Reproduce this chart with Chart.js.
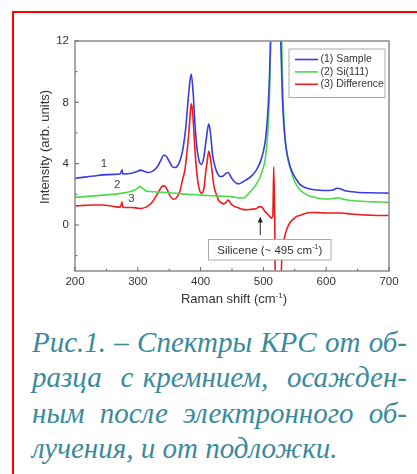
<!DOCTYPE html>
<html lang="ru">
<head>
<meta charset="UTF-8">
<title>Спектры КРС</title>
<script src="https://cdn.jsdelivr.net/npm/chart.js"></script>
<style>
    body {
        margin: 0;
        width: 417px;
        height: 474px;
        overflow: hidden;
        background: #fff;
        position: relative;
    }
    .frame {
        position: absolute;
        left: 12px;
        top: 11px;
        width: 420px;
        height: 480px;
        border-left: 2px solid #ff0000;
        border-top: 2px solid #ff0000;
    }
    #spectra {
        position: absolute;
        left: 0;
        top: 0;
    }
    .caption {
        position: absolute;
        left: 32px;
        top: 325px;
        width: 375px;
        font-family: "Liberation Serif", serif;
        font-style: italic;
        font-size: 29px;
        line-height: 35.3px;
        color: #3a8a9c;
    }
    .caption div {
        text-align: justify;
        text-align-last: justify;
    }
    .caption div.last {
        text-align-last: left;
    }
</style>
</head>
<body>
<div class="frame"></div>
<canvas id="spectra" width="417" height="310"></canvas>
<div class="caption">
    <div>Рис.1. – Спектры КРС от об-</div>
    <div>разца &nbsp;с кремнием, &nbsp;осажден-</div>
    <div>ным &nbsp;после &nbsp;электронного &nbsp;об-</div>
    <div class="last">лучения, и от подложки.</div>
</div>
<script>
// Raman shift (cm-1) and intensity (arb. units) for each spectrum
const sampleShift = [200, 215, 230, 245, 260, 272, 275, 276, 278, 290, 300, 304, 310, 316, 325, 332, 337, 341, 345, 350,
    355, 359, 364, 368, 372, 376, 379, 382, 385, 388, 391, 394, 397, 401, 405, 409, 413, 416, 419, 423,
    427, 431, 436, 440, 444, 448, 453, 460, 467, 473, 480, 489, 495, 500, 504, 508, 511, 514, 517, 520,
    523, 526, 528, 530, 532, 535, 537, 542, 546, 552, 558, 566, 574, 590, 605, 612, 617, 623, 632, 648,
    670, 700];
const sampleIntensity = [3.05, 3.12, 3.2, 3.27, 3.3, 3.33, 3.6, 3.33, 3.33, 3.38, 3.5, 3.58, 3.5, 3.42, 3.55, 3.85, 4.25, 4.55, 4.5, 4.15,
    3.8, 3.75, 3.9, 4.3, 5.0, 6.2, 7.6, 9.0, 9.85, 8.7, 6.6, 5.1, 4.3, 3.95, 4.4, 5.6, 6.6, 5.9, 4.6, 3.8,
    3.35, 3.16, 3.2, 3.35, 3.42, 3.15, 2.85, 2.68, 2.8, 2.95, 3.15, 3.6, 4.1, 4.8, 5.8, 8.0, 11.5, 18, 28, 40,
    30, 15, 11.5, 8.6, 6.9, 5.4, 4.8, 3.9, 3.45, 3.0, 2.65, 2.45, 2.35, 2.27, 2.25, 2.3, 2.4, 2.35, 2.22, 2.14,
    2.1, 2.08];

const siShift = [200, 215, 230, 245, 260, 275, 288, 296, 300, 303, 307, 312, 320, 335, 350, 365, 380, 394, 410, 430,
    450, 460, 470, 480, 486, 490, 494, 498, 502, 505, 508, 510, 512, 515, 518, 520, 522, 525, 527, 529,
    531, 534, 537, 540, 544, 548, 553, 558, 566, 574, 585, 595, 605, 612, 618, 624, 632, 640, 655, 670,
    685, 700];
const siIntensity = [1.8, 1.85, 1.9, 1.95, 2.0, 2.08, 2.18, 2.3, 2.42, 2.5, 2.42, 2.25, 2.18, 2.14, 2.1, 2.05, 2.0, 1.97, 1.92, 1.88,
    1.85, 1.76, 1.8, 2.22, 2.5, 2.75, 3.05, 3.5, 4.1, 5.0, 6.8, 9.0, 12.5, 22, 38, 45, 38, 22, 15, 12.2,
    8.5, 5.9, 4.8, 4.1, 3.55, 3.0, 2.6, 2.3, 2.05, 1.88, 1.78, 1.7, 1.7, 1.73, 1.78, 1.72, 1.65, 1.6, 1.55, 1.52,
    1.5, 1.47];

const diffShift = [200, 215, 230, 245, 260, 272, 275, 276, 278, 290, 300, 305, 312, 318, 324, 330, 335, 340, 344, 348,
    352, 357, 362, 367, 371, 375, 378, 381, 383, 385, 387, 389, 391, 394, 397, 401, 405, 408, 411, 413,
    415, 418, 421, 425, 429, 433, 437, 441, 444, 448, 452, 460, 467, 473, 480, 486, 490, 494, 498, 502,
    506, 510, 513, 515, 516.5, 518, 519.5, 527, 529, 531, 534, 538, 542, 548, 553, 558, 564, 572, 580, 592,
    605, 622, 640, 654, 670, 685, 700];
const diffIntensity = [1.25, 1.28, 1.3, 1.3, 1.22, 1.16, 1.5, 1.16, 1.14, 1.14, 1.1, 1.08, 1.15, 1.3, 1.55, 1.95, 2.3, 2.55, 2.5, 2.2,
    1.85, 1.68, 1.8, 2.2, 2.9, 3.6, 4.6, 5.9, 7.0, 7.9, 7.5, 6.3, 4.9, 3.4, 2.5, 2.08, 2.3, 3.4, 4.3, 4.8,
    4.5, 3.6, 2.6, 2.0, 1.6, 1.45, 1.38, 1.5, 1.63, 1.4, 1.25, 1.12, 1.02, 0.99, 1.02, 1.05, 1.1, 1.2, 1.15, 0.9,
    0.75, 0.56, 0.45, 0.6, 3.8, 0.5, -6, -6, -2.5, -1.4, -0.74, -0.2, 0.13, 0.4, 0.56, 0.62, 0.72, 0.8, 0.82, 0.8,
    0.78, 0.78, 0.72, 0.67, 0.64, 0.62, 0.62];

const seriesNames = ['(1) Sample', '(2) Si(111)', '(3) Difference'];
const curveNumbers = ['1', '2', '3'];
const xTickValues = [200, 300, 400, 500, 600, 700];
const yTickValues = [0, 4, 8, 12];
const xMinorTicks = [250, 350, 450, 550, 650];
const yMinorTicks = [-2, 2, 6, 10];

const BLUE = '#3b3be6';
const GREEN = '#48dc48';
const RED = '#ee1c1c';

function points(xs, ys) {
    return xs.map((x, i) => ({ x: x, y: ys[i] }));
}

function drawSup(ctx, base, sup, x, y, size, align) {
    // text with a raised "-1" exponent, then closing bracket
    ctx.font = size + 'px "Liberation Sans", Arial, sans-serif';
    const w1 = ctx.measureText(base).width;
    const w3 = ctx.measureText(')').width;
    ctx.font = Math.round(size * 0.62) + 'px "Liberation Sans", Arial, sans-serif';
    const w2 = ctx.measureText(sup).width;
    const total = w1 + w2 + w3;
    let x0 = align === 'center' ? x - total / 2 : x;
    ctx.textAlign = 'left';
    ctx.textBaseline = 'alphabetic';
    ctx.font = size + 'px "Liberation Sans", Arial, sans-serif';
    ctx.fillText(base, x0, y);
    ctx.font = Math.round(size * 0.62) + 'px "Liberation Sans", Arial, sans-serif';
    ctx.fillText(sup, x0 + w1, y - size * 0.42);
    ctx.font = size + 'px "Liberation Sans", Arial, sans-serif';
    ctx.fillText(')', x0 + w1 + w2, y);
}

const decorations = {
    id: 'decorations',
    afterDatasetsDraw(chart) {
        const ctx = chart.ctx;
        const area = chart.chartArea;
        const xs = chart.scales.x;
        const ys = chart.scales.y;
        ctx.save();

        // axis box
        ctx.strokeStyle = '#8a8a8a';
        ctx.lineWidth = 1.5;
        ctx.strokeRect(area.left, area.top, area.right - area.left, area.bottom - area.top);

        // inward tick marks
        ctx.lineWidth = 1;
        ctx.strokeStyle = '#666';
        ctx.beginPath();
        xTickValues.forEach(v => {
            const px = xs.getPixelForValue(v);
            ctx.moveTo(px, area.bottom); ctx.lineTo(px, area.bottom - 4);
        });
        xMinorTicks.forEach(v => {
            const px = xs.getPixelForValue(v);
            ctx.moveTo(px, area.bottom); ctx.lineTo(px, area.bottom - 2.5);
        });
        yTickValues.forEach(v => {
            const py = ys.getPixelForValue(v);
            ctx.moveTo(area.left, py); ctx.lineTo(area.left + 4, py);
        });
        yMinorTicks.forEach(v => {
            const py = ys.getPixelForValue(v);
            ctx.moveTo(area.left, py); ctx.lineTo(area.left + 2.5, py);
        });
        ctx.stroke();

        // axis titles
        ctx.fillStyle = '#333';
        drawSup(ctx, 'Raman shift (cm', '-1', (area.left + area.right) / 2 + 2, 303, 13, 'center');
        ctx.save();
        ctx.translate(45, 147);
        ctx.rotate(-Math.PI / 2);
        ctx.font = '13px "Liberation Sans", Arial, sans-serif';
        ctx.textAlign = 'center';
        ctx.textBaseline = 'middle';
        ctx.fillText('Intensity (arb. units)', 0, 0);
        ctx.restore();

        // curve numbers
        ctx.font = '11.5px "Liberation Sans", Arial, sans-serif';
        ctx.fillStyle = '#444';
        ctx.textAlign = 'center';
        ctx.textBaseline = 'middle';
        [[246, 4.0], [267, 2.6], [290, 1.7]].forEach((p, i) => {
            ctx.fillText(curveNumbers[i], xs.getPixelForValue(p[0]), ys.getPixelForValue(p[1]));
        });

        // legend
        const lx = area.right - 100, ly = area.top + 8;
        ctx.fillStyle = '#fff';
        ctx.fillRect(lx, ly, 96, 48.5);
        ctx.strokeStyle = '#aaa';
        ctx.lineWidth = 1;
        ctx.strokeRect(lx, ly, 96, 48.5);
        ctx.font = '10.5px "Liberation Sans", Arial, sans-serif';
        ctx.textAlign = 'left';
        ctx.textBaseline = 'middle';
        [BLUE, GREEN, RED].forEach((c, i) => {
            const yy = ly + 10.5 + i * 12.4;
            ctx.strokeStyle = c;
            ctx.lineWidth = 1.6;
            ctx.beginPath();
            ctx.moveTo(lx + 6, yy); ctx.lineTo(lx + 29, yy);
            ctx.stroke();
            ctx.fillStyle = '#333';
            ctx.fillText(seriesNames[i], lx + 31.5, yy);
        });

        // silicene annotation: arrow and label box
        const ax = xs.getPixelForValue(495);
        const aTop = ys.getPixelForValue(0.55);
        const aBot = ys.getPixelForValue(-0.65);
        ctx.strokeStyle = '#222';
        ctx.fillStyle = '#222';
        ctx.lineWidth = 1;
        ctx.beginPath();
        ctx.moveTo(ax, aBot); ctx.lineTo(ax, aTop + 5);
        ctx.stroke();
        ctx.beginPath();
        ctx.moveTo(ax, aTop); ctx.lineTo(ax - 2.5, aTop + 6); ctx.lineTo(ax + 2.5, aTop + 6);
        ctx.closePath();
        ctx.fill();

        const bx = 208.5, by = 239.5, bw = 122.5, bh = 20.5;
        ctx.fillStyle = '#fff';
        ctx.fillRect(bx, by, bw, bh);
        ctx.strokeStyle = '#aaa';
        ctx.strokeRect(bx, by, bw, bh);
        ctx.fillStyle = '#333';
        drawSup(ctx, 'Silicene (~ 495 cm', '-1', bx + bw / 2, by + 14.5, 11.5, 'center');

        ctx.restore();
    }
};

new Chart(document.getElementById('spectra'), {
    type: 'line',
    data: {
        datasets: [
            { label: seriesNames[0], data: points(sampleShift, sampleIntensity), borderColor: BLUE },
            { label: seriesNames[1], data: points(siShift, siIntensity), borderColor: GREEN },
            { label: seriesNames[2], data: points(diffShift, diffIntensity), borderColor: RED }
        ]
    },
    options: {
        responsive: false,
        animation: false,
        devicePixelRatio: 1,
        parsing: false,
        layout: { padding: { left: 0, right: 28, top: 41, bottom: 0 } },
        elements: {
            point: { radius: 0 },
            line: { borderWidth: 1.6, cubicInterpolationMode: 'monotone', fill: false }
        },
        plugins: {
            legend: { display: false },
            tooltip: { enabled: false }
        },
        scales: {
            x: {
                type: 'linear',
                min: 200,
                max: 700,
                grid: { display: false, drawTicks: false },
                border: { display: false },
                afterBuildTicks: s => { s.ticks = xTickValues.map(v => ({ value: v })); },
                afterFit: s => { s.height = 39; },
                ticks: {
                    color: '#333',
                    padding: 4,
                    maxRotation: 0,
                    autoSkip: false,
                    font: { family: '"Liberation Sans", Arial, sans-serif', size: 11.5 }
                }
            },
            y: {
                type: 'linear',
                min: -3,
                max: 12,
                grid: { display: false, drawTicks: false },
                border: { display: false },
                afterBuildTicks: s => { s.ticks = yTickValues.map(v => ({ value: v })); },
                afterFit: s => { s.width = 75; },
                ticks: {
                    color: '#333',
                    padding: 6,
                    font: { family: '"Liberation Sans", Arial, sans-serif', size: 11.5 }
                }
            }
        }
    },
    plugins: [decorations]
});
</script>
</body>
</html>
